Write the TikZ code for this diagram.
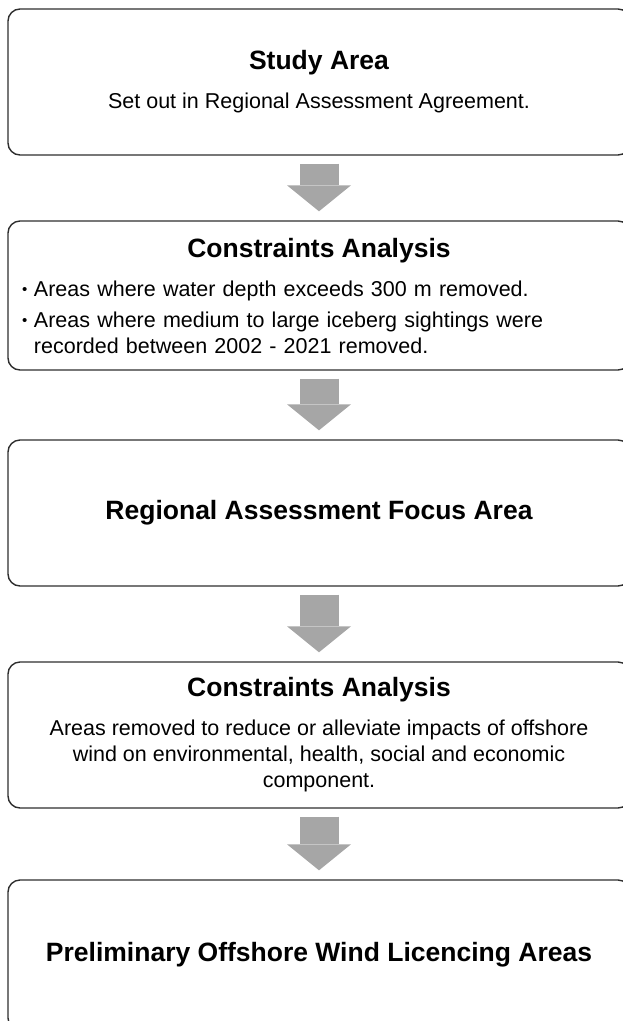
\documentclass[tikz,border=0pt]{standalone}
\usepackage{fontspec}
\setmainfont{Liberation Sans}
\usetikzlibrary{arrows.meta}
\definecolor{arrowgray}{HTML}{A6A6A6}
\definecolor{edgegray}{HTML}{2E2E2E}
\newcommand{\stagetitle}[1]{{\fontsize{26.5}{30}\selectfont\bfseries #1}}
\newcommand{\pointitem}[1]{\noindent\hangindent=12pt\hangafter=1\makebox[12pt][l]{\fontsize{15}{15}\selectfont\raisebox{2pt}{\textbullet}}#1\par}

\begin{document}
\begin{tikzpicture}[x=1pt,y=-1pt,
		stage/.style={draw=edgegray, line width=1.4pt, rounded corners=12pt, minimum width=622pt, inner sep=0pt, align=center, font=\fontsize{21.5}{26}\selectfont},
		flow/.style={draw=arrowgray, line width=39pt, -{Triangle[width=64pt,length=26pt,line width=0pt]}, shorten <=8pt, shorten >=9pt}]
	\useasboundingbox (0,0) rectangle (623,1021);

	\node[stage, minimum height=146pt] (study) at (319,82) {\stagetitle{Study Area}\\[13pt] Set out in Regional Assessment Agreement.};

	\node[stage, minimum height=149pt, text width=594pt, align=left] (depth) at (319,295.5) {%
		{\centering\stagetitle{Constraints Analysis}\par}\vspace{13pt}
		\pointitem{Areas where water depth exceeds 300 m removed.}\vspace{5pt}
		\pointitem{Areas where medium to large iceberg sightings were\newline recorded between 2002 - 2021 removed.}};

	\node[stage, minimum height=146pt] (focus) at (319,513) {\stagetitle{Regional Assessment Focus Area}};

	\node[stage, minimum height=146pt] (impact) at (319,735) {\stagetitle{Constraints Analysis}\\[13pt] Areas removed to reduce or alleviate impacts of offshore\\ wind on environmental, health, social and economic\\ component.};

	\node[stage, minimum height=150pt] (licence) at (319,955) {\stagetitle{Preliminary Offshore Wind Licencing Areas}};

	% gray block arrows between the stages
	\draw[flow] (study) -- (depth);
	\draw[flow] (depth) -- (focus);
	\draw[flow] (focus) -- (impact);
	\draw[flow] (impact) -- (licence);
\end{tikzpicture}
\end{document}
